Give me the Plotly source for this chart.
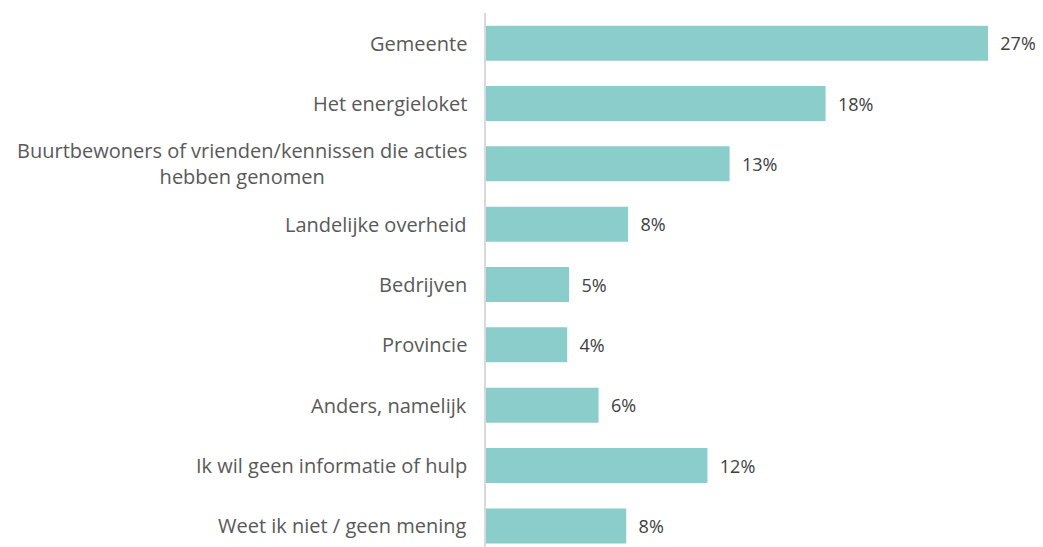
import plotly.graph_objects as go

categories = [
    "Gemeente",
    "Het energieloket",
    "Buurtbewoners of vrienden/kennissen die acties<br>hebben genomen",
    "Landelijke overheid",
    "Bedrijven",
    "Provincie",
    "Anders, namelijk",
    "Ik wil geen informatie of hulp",
    "Weet ik niet / geen mening",
]
values = [27.2, 18.4, 13.2, 7.7, 4.5, 4.4, 6.1, 12.0, 7.6]
labels = ["27%", "18%", "13%", "8%", "5%", "4%", "6%", "12%", "8%"]

FONT = "Open Sans, Lato, sans-serif"
idx = list(range(len(categories)))

fig = go.Figure()
fig.add_trace(go.Bar(
    y=idx,
    x=values,
    orientation="h",
    marker=dict(color="#8BCDCA", line=dict(width=0)),
    text=["\u00a0\u00a0" + t for t in labels],
    textposition="outside",
    textfont=dict(family=FONT, size=18, color="#404040"),
    cliponaxis=False,
    hoverinfo="skip",
))

for i, c in enumerate(categories):
    fig.add_annotation(
        x=0, xref="paper", y=i, yref="y",
        text=c, showarrow=False,
        xanchor="right", yanchor="middle", align="center",
        xshift=-17,
        font=dict(family=FONT, size=20, color="#595959"),
    )

fig.update_layout(
    width=1035, height=539,
    margin=dict(l=478, r=10, t=5, b=0),
    paper_bgcolor="white", plot_bgcolor="white",
    bargap=0.42,
    showlegend=False,
    xaxis=dict(range=[0, 29.64], visible=False, fixedrange=True),
    yaxis=dict(
        range=[8.35, -0.5],
        showticklabels=False, showgrid=False, zeroline=False,
        showline=True, linecolor="#D9D9D9", linewidth=2,
        ticks="", fixedrange=True,
    ),
)

fig.write_html("out.html")
